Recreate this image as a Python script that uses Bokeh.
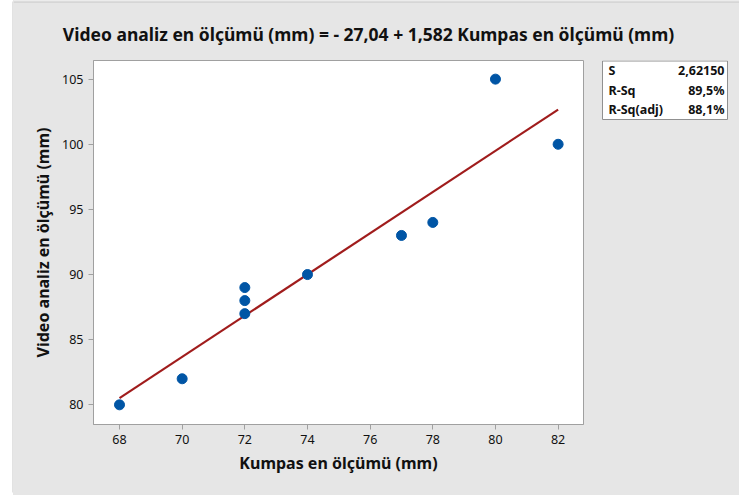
import numpy as np
from bokeh.plotting import figure
from bokeh.layouts import row, column
from bokeh.models import FixedTicker, Range1d
from bokeh.core.properties import value
from bokeh.embed import file_html
from bokeh.resources import INLINE

kumpas = [68, 70, 72, 72, 72, 74, 77, 78, 80, 82]
video = [80, 82, 87, 88, 89, 90, 93, 94, 105, 100]
x_ticks = [68, 70, 72, 74, 76, 78, 80, 82]
y_ticks = [80, 85, 90, 95, 100, 105]
stat_names = ["S", "R-Sq", "R-Sq(adj)"]
stat_values = ["2,62150", "89,5%", "88,1%"]
title_text = "Video analiz en ölçümü (mm) = - 27,04 + 1,582 Kumpas en ölçümü (mm)"
x_label = "Kumpas en ölçümü (mm)"
y_label = "Video analiz en ölçümü (mm)"

FONT = "Noto Sans"
BG = "#e6e6e6"
EDGE = "#c6c6c6"
TXT = "#111111"
W, H = 739, 495
STRIP = 13          # white strip + border line on the left
TOP = 59            # height of title band
BOT = 4             # bottom edge band
MAIN_W = 575        # main figure width
SIDE_W = W - STRIP - MAIN_W
MID_H = H - TOP - BOT
F_TOP, F_BOT = 60, 424   # frame top / bottom (canvas px)


def blank(width, height, xr, yr, bg, **kw):
    f = figure(width=width, height=height, x_range=Range1d(*xr), y_range=Range1d(*yr),
               output_backend="svg", toolbar_location=None,
               x_axis_location=None, y_axis_location=None, **kw)
    f.background_fill_color = bg
    f.border_fill_color = bg
    f.outline_line_color = None
    f.xgrid.visible = False
    f.ygrid.visible = False
    return f


# left white strip with the panel's edge line
strip = blank(STRIP, H, (0, STRIP), (H, 0), "white", min_border=0)
strip.quad(left=[STRIP - 1], right=[STRIP], top=[1], bottom=[492], fill_color=EDGE, line_color=None)

# title band
tb = blank(W - STRIP, TOP, (STRIP, W), (TOP, 0), BG, min_border=0)
tb.quad(left=[STRIP], right=[W], top=[0], bottom=[1], fill_color="white", line_color=None)
tb.quad(left=[STRIP], right=[W], top=[1], bottom=[2], fill_color=EDGE, line_color=None)
tb.text(x=[368], y=[33], text=[title_text], text_font=value(FONT), text_font_size="17.5px",
        text_font_style="bold", text_align="center", text_baseline="middle", text_color=TXT)

# bottom edge band
bb = blank(W - STRIP, BOT, (STRIP, W), (H, H - BOT), "white", min_border=0)
bb.quad(left=[STRIP], right=[W], top=[H - BOT], bottom=[H - BOT + 1.5], fill_color=EDGE, line_color=None)

# main plot
p = figure(width=MAIN_W, height=MID_H, x_range=(67.17, 82.81), y_range=(78.49, 106.43),
           output_backend="svg", toolbar_location=None,
           min_border_left=93 - STRIP, min_border_right=STRIP + MAIN_W - 583,
           min_border_top=F_TOP - TOP, min_border_bottom=H - BOT - F_BOT)
p.background_fill_color = "white"
p.border_fill_color = BG
p.outline_line_color = "#a0a0a0"
p.xgrid.visible = False
p.ygrid.visible = False

for ax, ticks, lab in ((p.xaxis, x_ticks, x_label), (p.yaxis, y_ticks, y_label)):
    ax.ticker = FixedTicker(ticks=ticks)
    ax.axis_label = lab
    ax.axis_label_text_font = FONT
    ax.axis_label_text_font_size = "16px"
    ax.axis_label_text_font_style = "bold"
    ax.axis_label_text_color = TXT
    ax.major_label_text_font = FONT
    ax.major_label_text_font_size = "12.5px"
    ax.major_label_text_color = TXT
    ax.axis_line_color = "#a0a0a0"
    ax.major_tick_line_color = "#a0a0a0"
    ax.major_tick_out = 5
    ax.major_tick_in = 0
    ax.minor_tick_line_color = None

b1, b0 = np.polyfit(kumpas, video, 1)
xs = [min(kumpas), max(kumpas)]
p.line(xs, [b0 + b1 * v for v in xs], line_color="#a01c1c", line_width=2.2)
p.scatter(kumpas, video, size=10, fill_color="#0055a5", line_color="#0055a5")

# statistics box (frame matches the main frame's vertical extent)
x0 = STRIP + MAIN_W
side = blank(SIDE_W, MID_H, (x0, W), (F_BOT, F_TOP), BG,
             min_border_left=0, min_border_right=0,
             min_border_top=F_TOP - TOP, min_border_bottom=H - BOT - F_BOT)
side.quad(left=[602], right=[727], top=[60.5], bottom=[119], fill_color="white", line_color="#909090")
rows_y = [70, 89.5, 109]
side.text(x=[608] * 3, y=rows_y, text=stat_names, text_font=value(FONT), text_font_size="12.5px",
          text_font_style="bold", text_baseline="middle", text_color=TXT)
side.text(x=[724] * 3, y=rows_y, text=stat_values, text_font=value(FONT), text_font_size="12.5px",
          text_font_style="bold", text_baseline="middle", text_align="right", text_color=TXT)

bg_style = {"background-color": BG}
layout = row(strip,
             column(tb, row(p, side, spacing=0, styles=bg_style), bb, spacing=0, styles=bg_style),
             spacing=0)
open("out.html", "w").write(file_html(layout, INLINE))
